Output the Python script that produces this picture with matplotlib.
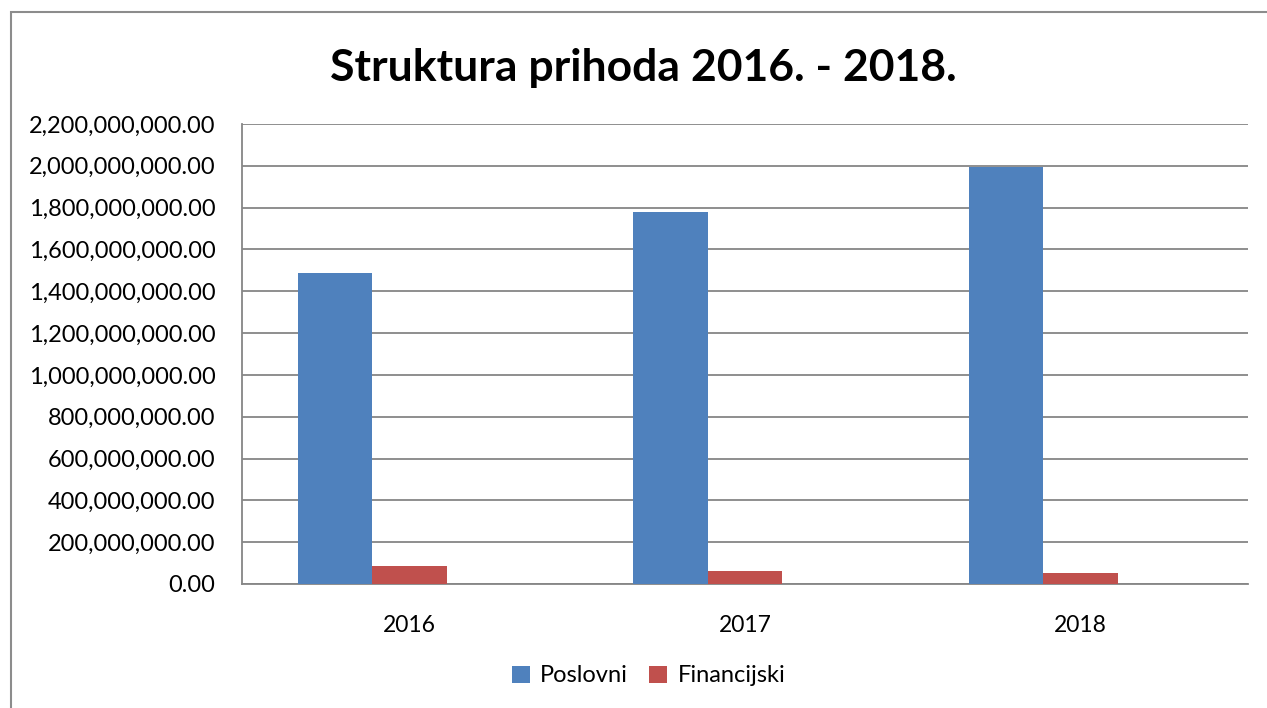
import matplotlib.pyplot as plt
from matplotlib.patches import Rectangle
from matplotlib.ticker import FuncFormatter, MultipleLocator
import numpy as np

plt.rcParams['font.family'] = ['Lato', 'DejaVu Sans']

years = ['2016', '2017', '2018']
poslovni = [1489000000, 1780000000, 1995000000]
financijski = [88000000, 60000000, 54000000]

fig = plt.figure(figsize=(12.67, 7.08), dpi=100)
W, H = 1267, 708

# outer chart frame
fig.patches.append(Rectangle((11 / W, -0.1), 1.2, 1 - 12 / H + 0.1, transform=fig.transFigure,
                             fill=False, edgecolor='#8c8c8c', linewidth=1.5))

ax = fig.add_axes([242 / W, 1 - 584 / H, (1248 - 242) / W, (584 - 124) / H])

x = np.arange(len(years))
w = 0.222
ax.bar(x - w, poslovni, w, color='#4F81BD', label='Poslovni', zorder=3)
ax.bar(x, financijski, w, color='#C0504D', label='Financijski', zorder=3)

ax.set_xlim(-0.5, 2.5)
ax.set_ylim(0, 2200000000)
ax.yaxis.set_major_locator(MultipleLocator(200000000))
ax.yaxis.set_major_formatter(FuncFormatter(lambda v, p: f'{v:,.2f}'))
ax.grid(axis='y', color='#868686', linewidth=1.3, zorder=0)
ax.set_xticks(x)
ax.set_xticklabels(years)
ax.tick_params(axis='y', length=0, labelsize=17, pad=19)
ax.tick_params(axis='x', length=0, labelsize=16.5, pad=22)
for s in ['top', 'right']:
    ax.spines[s].set_visible(False)
ax.spines['left'].set_color('#868686')
ax.spines['bottom'].set_color('#868686')
ax.spines['left'].set_linewidth(1.3)
ax.spines['bottom'].set_linewidth(1.3)

fig.text(0.508, 1 - 68 / H, 'Struktura prihoda 2016. - 2018.', ha='center', va='center',
         fontsize=32, fontweight='bold')

fig.legend(loc='center', bbox_to_anchor=(0.512, 1 - 676 / H), ncol=2, frameon=False,
           fontsize=17, handlelength=0.75, handleheight=0.75, handletextpad=0.45, columnspacing=0.9)

fig.savefig('out.png', dpi=100)
